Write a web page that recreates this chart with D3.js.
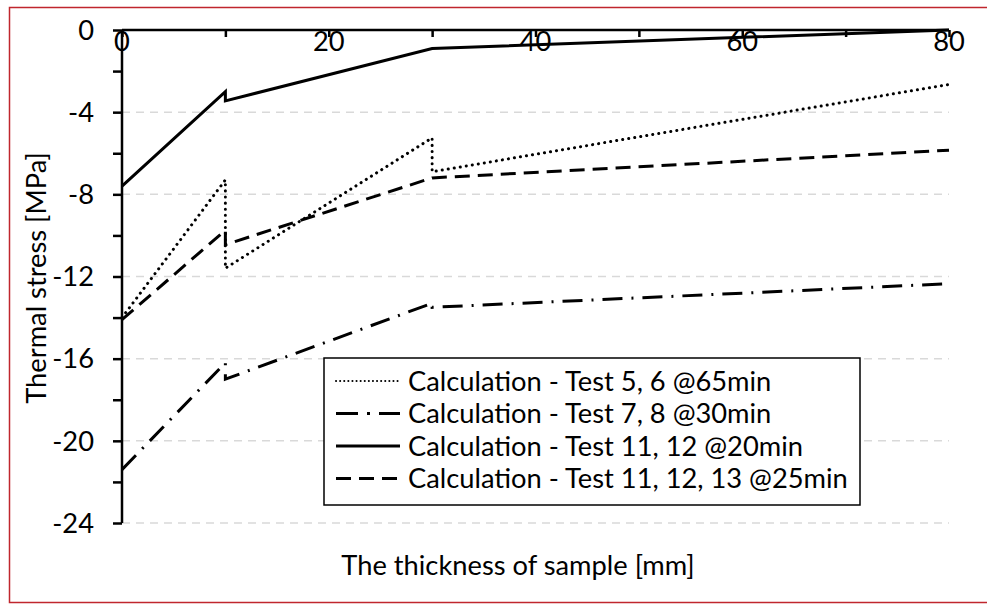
<!DOCTYPE html>
<html>
<head>
<meta charset="utf-8">
<script src="https://cdn.jsdelivr.net/npm/d3@7"></script>
<style>
  body { margin: 0; background: #fff; }
  svg { font-family: Lato, "Open Sans", sans-serif; fill: #000; }
</style>
</head>
<body>
<svg width="987" height="604"></svg>
<script>
// thickness [mm], repeated x marks a jump in the curve
var xTest56 = [0, 10, 10, 30, 30, 80];
var yTest56 = [-14.0, -7.3, -11.6, -5.25, -6.9, -2.65];
var xTest78 = [0, 10, 10, 30, 30, 80];
var yTest78 = [-21.4, -16.2, -17.0, -13.3, -13.5, -12.35];
var xTest1112 = [0, 10, 10, 30, 80];
var yTest1112 = [-7.6, -3.0, -3.45, -0.9, 0];
var xTest111213 = [0, 10, 10, 30, 80];
var yTest111213 = [-14.1, -9.75, -10.45, -7.2, -5.85];

var seriesNames = [
  "Calculation - Test 5, 6 @65min",
  "Calculation - Test 7, 8 @30min",
  "Calculation - Test 11, 12 @20min",
  "Calculation - Test 11, 12, 13 @25min"
];
var xTicks = [0, 20, 40, 60, 80];
var yTicks = [0, -4, -8, -12, -16, -20, -24];

var dashes = ["0.1 6", "20 9 2 9", null, "15 8"];

(function(){
var svg = d3.select("svg");

// find font size so the widest legend entry is ~440px like the picture
var probe = svg.append("text").attr("font-size", 20).text(seriesNames[3]);
var fs = 20 * 440 / probe.node().getComputedTextLength();
probe.remove();

// outer red frame
svg.append("rect")
  .attr("x", 9.5).attr("y", 7.5)
  .attr("width", 990).attr("height", 595)
  .attr("fill", "none").attr("stroke", "#c0262d").attr("stroke-width", 1.5);

var pL = 122, pR = 949, pT = 30, pB = 523;
var x = d3.scaleLinear().domain([0, 80]).range([pL, pR]);
var y = d3.scaleLinear().domain([-24, 0]).range([pB, pT]);

// grid
svg.append("g").selectAll("line")
  .data(yTicks.filter(function(d){ return d < 0; }))
  .enter().append("line")
  .attr("x1", pL).attr("x2", pR)
  .attr("y1", function(d){ return y(d); }).attr("y2", function(d){ return y(d); })
  .attr("stroke", "#d9d9d9").attr("stroke-width", 1.5)
  .attr("stroke-dasharray", "8 6");

// y axis with minor ticks
var yAxis = svg.append("g").attr("transform", "translate(" + pL + ",0)");
yAxis.call(d3.axisLeft(y).tickValues(d3.range(-24, 1, 2)).tickSize(9).tickFormat(""));
yAxis.selectAll("path, line").attr("stroke", "#000").attr("stroke-width", 2.5);
yAxis.select(".domain").attr("d", "M0," + pB + "V" + pT);
svg.append("g").selectAll("text")
  .data(yTicks).enter().append("text")
  .attr("x", 94).attr("y", function(d){ return y(d); })
  .attr("dy", "0.36em")
  .attr("text-anchor", "end")
  .attr("font-size", fs)
  .text(function(d){ return d; });

// x axis on top, ticks pointing down
var xAxis = svg.append("g").attr("transform", "translate(0," + pT + ")");
xAxis.call(d3.axisBottom(x).tickValues(d3.range(0, 81, 10)).tickSize(7).tickFormat(""));
xAxis.selectAll("path, line").attr("stroke", "#000").attr("stroke-width", 2.5);
xAxis.select(".domain").attr("d", "M" + pL + ",0H" + pR);
svg.append("g").selectAll("text")
  .data(xTicks).enter().append("text")
  .attr("x", function(d){ return x(d); }).attr("y", 51)
  .attr("text-anchor", "middle")
  .attr("font-size", fs)
  .text(function(d){ return d; });

// series
var series = [
  d3.zip(xTest56, yTest56),
  d3.zip(xTest78, yTest78),
  d3.zip(xTest1112, yTest1112),
  d3.zip(xTest111213, yTest111213)
];
var line = d3.line().x(function(d){ return x(d[0]); }).y(function(d){ return y(d[1]); });
svg.append("g").selectAll("path")
  .data(series).enter().append("path")
  .attr("d", line)
  .attr("fill", "none").attr("stroke", "#000").attr("stroke-width", 3)
  .attr("stroke-linecap", function(d, i){ return i === 0 ? "round" : "butt"; })
  .attr("stroke-dasharray", function(d, i){ return dashes[i]; });

// axis titles
svg.append("text")
  .attr("transform", "translate(46,278) rotate(-90)")
  .attr("text-anchor", "middle").attr("font-size", fs)
  .text("Thermal stress [MPa]");
svg.append("text")
  .attr("x", 518).attr("y", 575)
  .attr("text-anchor", "middle").attr("font-size", fs)
  .text("The thickness of sample [mm]");

// legend
var lg = svg.append("g");
lg.append("rect")
  .attr("x", 324).attr("y", 358).attr("width", 536).attr("height", 147)
  .attr("fill", "#fff").attr("stroke", "#000").attr("stroke-width", 1.5);
var rows = lg.selectAll("g.row").data(seriesNames).enter().append("g")
  .attr("transform", function(d, i){ return "translate(0," + (381 + i * 32.5) + ")"; });
rows.append("line")
  .attr("x1", 336).attr("x2", 400)
  .attr("stroke", "#000").attr("stroke-width", function(d, i){ return i === 0 ? 2 : 3; })
  .attr("stroke-linecap", function(d, i){ return i === 0 ? "round" : "butt"; })
  .attr("stroke-dasharray", function(d, i){ return i === 0 ? "0.1 4" : i === 1 ? "22 9 3 9" : dashes[i]; });
rows.append("text")
  .attr("x", 408).attr("dy", "0.36em")
  .attr("font-size", fs)
  .text(function(d){ return d; });
})();
</script>
</body>
</html>
